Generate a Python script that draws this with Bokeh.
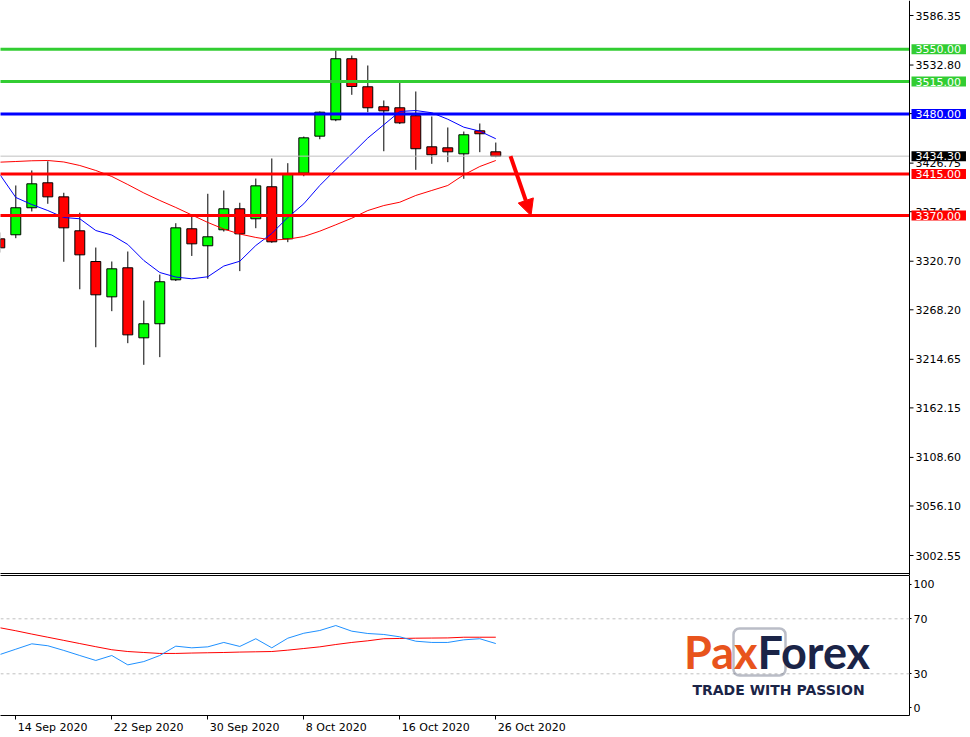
from bokeh.plotting import figure
from bokeh.models import (Range1d, FixedTicker, LinearAxis, Span, Label, Arrow,
                          NormalHead, BoxAnnotation, ColumnDataSource)
from bokeh.core.properties import value
from bokeh.layouts import column
from bokeh.embed import file_html
from bokeh.resources import INLINE

# ---------------- data ----------------
dates = ["2020-09-11", "2020-09-14", "2020-09-15", "2020-09-16", "2020-09-17", "2020-09-18",
         "2020-09-21", "2020-09-22", "2020-09-23", "2020-09-24", "2020-09-25", "2020-09-28",
         "2020-09-29", "2020-09-30", "2020-10-01", "2020-10-02", "2020-10-05", "2020-10-06",
         "2020-10-07", "2020-10-08", "2020-10-09", "2020-10-12", "2020-10-13", "2020-10-14",
         "2020-10-15", "2020-10-16", "2020-10-19", "2020-10-20", "2020-10-21", "2020-10-22",
         "2020-10-23", "2020-10-26"]
opens = [3344.9, 3349.3, 3378.5, 3405.5, 3390.3, 3353.6, 3320.4, 3282.2, 3313.6, 3237.9,
         3253.1, 3300.6, 3355.8, 3337.4, 3354.7, 3377.4, 3366.6, 3401.2, 3344.9, 3415.9,
         3455.9, 3473.6, 3539.6, 3509.3, 3487.7, 3486.6, 3478.0, 3444.4, 3443.3, 3436.8,
         3461.7, 3439.0]
highs = [3351.8, 3402.6, 3418.8, 3428.8, 3394.7, 3373.1, 3335.5, 3320.4, 3331.2, 3278.2,
         3306.3, 3361.8, 3370.1, 3393.6, 3397.2, 3383.9, 3410.1, 3431.8, 3426.7, 3455.5,
         3482.6, 3548.5, 3543.1, 3532.3, 3494.5, 3514.2, 3504.2, 3477.2, 3465.3, 3460.9,
         3469.6, 3449.0]
lows = [3330.1, 3345.6, 3374.5, 3382.8, 3320.1, 3290.4, 3227.7, 3266.7, 3232.1, 3208.7,
        3217.0, 3299.3, 3326.4, 3301.7, 3352.8, 3310.0, 3356.4, 3340.6, 3341.3, 3412.6,
        3452.6, 3472.1, 3500.6, 3481.8, 3439.6, 3469.0, 3419.5, 3426.0, 3427.8, 3409.8,
        3438.6, 3433.2]
closes = [3335.2, 3378.5, 3404.4, 3390.3, 3356.8, 3327.6, 3284.4, 3312.5, 3241.1, 3253.1,
          3298.5, 3356.8, 3339.5, 3347.1, 3377.4, 3350.3, 3402.2, 3341.7, 3414.5, 3454.1,
          3481.8, 3539.6, 3509.6, 3486.6, 3483.3, 3470.3, 3442.3, 3435.8, 3439.0, 3457.4,
          3458.5, 3434.3]
ma_fast = [3414.5, 3389.6, 3382.0, 3375.5, 3368.0, 3366.6, 3353.9, 3349.0, 3338.8, 3321.5,
           3308.5, 3303.6, 3301.7, 3303.9, 3315.5, 3320.7, 3337.7, 3350.7, 3368.0, 3382.8,
           3402.6, 3419.9, 3436.8, 3453.9, 3468.2, 3482.6, 3483.6, 3481.2, 3474.2, 3465.6,
           3461.3, 3453.1]
ma_slow = [3427.8, 3428.5, 3429.3, 3429.6, 3428.0, 3424.2, 3418.8, 3412.3, 3403.6, 3394.5,
           3386.4, 3378.8, 3370.7, 3362.6, 3355.5, 3350.1, 3346.4, 3343.6, 3344.5, 3347.4,
           3353.2, 3360.1, 3367.2, 3375.5, 3380.9, 3384.5, 3391.8, 3397.2, 3402.6, 3414.1,
           3423.1, 3429.6]
rsi = [44.0, 47.9, 51.8, 50.4, 47.0, 43.3, 39.7, 43.3, 36.5, 38.9, 43.3, 50.1, 48.9, 49.6,
       52.8, 49.9, 55.5, 48.9, 55.9, 59.5, 61.5, 65.1, 61.0, 59.3, 58.6, 56.9, 53.7, 52.8,
       52.8, 54.7, 55.5, 52.0]
rsi_signal = [63.5, 61.3, 58.9, 56.6, 54.3, 52.0, 49.7, 47.5, 46.2, 45.5, 44.8, 44.8, 45.1,
              45.3, 45.5, 45.8, 46.0, 46.2, 47.2, 48.4, 49.6, 51.3, 52.8, 54.0, 55.5, 55.7,
              55.9, 56.0, 56.1, 56.6, 56.6, 56.6]

levels = [3550.0, 3515.0, 3480.0, 3415.0, 3370.0]
level_colors = ["#32CD32", "#32CD32", "#0000FF", "#FF0000", "#FF0000"]

price_ticks = [3586.35, 3532.80, 3480.30, 3426.75, 3374.25, 3320.70, 3268.20, 3214.65,
               3162.15, 3108.60, 3056.10, 3002.55]
price_tick_labels = ["3586.35", "3532.80", "3480.30", "3426.75", "3374.25", "3320.70",
                     "3268.20", "3214.65", "3162.15", "3108.60", "3056.10", "3002.55"]
ind_levels = [100, 70, 30, 0]
ind_level_labels = ["100", "70", "30", "0"]
date_tick_dates = ["2020-09-14", "2020-09-22", "2020-09-30", "2020-10-08", "2020-10-16",
                   "2020-10-26"]
date_tick_labels = ["14 Sep 2020", "22 Sep 2020", "30 Sep 2020", "8 Oct 2020",
                    "16 Oct 2020", "26 Oct 2020"]

# ---------------- layout / style ----------------
FONT = "DejaVu Sans"
TOTAL_W = 970
AXIS_PX = 909        # x pixel of the right axis line
MAIN_H = 575
IND_H = 140
BAR_PX = 16.0
PRICE_PER_PX = 1.0811
IND_PX = 1.375

x_start = 0.7 / BAR_PX
axis_x = x_start + AXIS_PX / BAR_PX
px = 1 / BAR_PX      # one pixel in bar units

y_top = 3602.57
y_bot = y_top - MAIN_H * PRICE_PER_PX

ind_top = 70 + 43.3 / IND_PX
ind_bot = ind_top - IND_H / IND_PX

n = len(dates)
idx = list(range(n))
src = ColumnDataSource(dict(
    x=idx, high=highs, low=lows,
    top=[max(o, c) for o, c in zip(opens, closes)],
    bottom=[min(o, c) for o, c in zip(opens, closes)],
    color=["#00FF00" if c >= o else "#FF0000" for o, c in zip(opens, closes)],
    fast=ma_fast, slow=ma_slow, rsi=rsi, sig=rsi_signal))


def axis_style(ax):
    ax.axis_line_color = "black"
    ax.major_tick_line_color = "black"
    ax.major_tick_in = 0
    ax.major_tick_out = 4
    ax.minor_tick_line_color = None
    ax.major_label_text_font = FONT
    ax.major_label_text_font_size = "11px"
    ax.major_label_text_color = "black"
    ax.major_label_standoff = 2


# ---------------- main price panel (frame spans the price scale area too) ----------------
p = figure(frame_width=TOTAL_W, frame_height=MAIN_H,
           x_range=Range1d(x_start, x_start + TOTAL_W / BAR_PX), y_range=Range1d(y_bot, y_top),
           output_backend="svg", toolbar_location=None, min_border=0,
           outline_line_color=None, x_axis_location=None, y_axis_location=None,
           background_fill_color="white", border_fill_color="white")
p.grid.visible = False

# price scale: axis line, ticks and tick labels
p.add_layout(Span(location=axis_x, dimension="height", line_color="black", line_width=1))
p.segment(x0=[axis_x] * len(price_ticks), y0=price_ticks,
          x1=[axis_x + 4 * px] * len(price_ticks), y1=price_ticks,
          line_color="black", line_width=1)
p.text(x=[axis_x + 6 * px] * len(price_ticks), y=price_ticks, text=price_tick_labels,
       text_font=value(FONT), text_font_size="11px", text_color="black",
       text_baseline="middle", text_align="left")
# bottom border of the price panel
sep_y = y_top - 573 * PRICE_PER_PX
p.segment(x0=[x_start - 1], y0=[sep_y], x1=[axis_x], y1=[sep_y], line_color="black",
          line_width=1)

# candles
p.segment(x0="x", y0="low", x1="x", y1="high", line_color="black", line_width=1, source=src)
p.vbar(x="x", width=0.62, top="top", bottom="bottom", fill_color="color",
       line_color="black", line_width=1, source=src)
p.line("x", "fast", line_color="#0000FF", line_width=1, source=src)
p.line("x", "slow", line_color="#FF0000", line_width=1, source=src)

# price line and levels
p.segment(x0=[x_start - 1], y0=[closes[-1]], x1=[axis_x], y1=[closes[-1]],
          line_color="#C0C0C0", line_width=1)
p.segment(x0=[x_start - 1] * len(levels), y0=levels, x1=[axis_x] * len(levels), y1=levels,
          line_color=level_colors, line_width=3, line_cap="butt")

PAD = dict(left=4, right=5, top=1, bottom=1)
box_x = axis_x + 2 * px
p.add_layout(Label(x=box_x, y=closes[-1], text=f"{closes[-1]:.2f}", text_color="white",
                   text_font=FONT, text_font_size="11px", text_baseline="middle",
                   text_align="left", background_fill_color="black", padding=PAD))
for lv, col in zip(levels, level_colors):
    p.add_layout(Label(x=box_x, y=lv, text=f"{lv:.2f}", text_color="white",
                       text_font=FONT, text_font_size="11px", text_baseline="middle",
                       text_align="left", background_fill_color=col, padding=PAD))

p.add_layout(Arrow(end=NormalHead(size=16, fill_color="#FF0000", line_color="#FF0000"),
                   x_start=n - 1 + 0.92, y_start=closes[-1],
                   x_end=n - 1 + 2.2, y_end=levels[4],
                   line_color="#FF0000", line_width=4))

# ---------------- indicator panel ----------------
q = figure(frame_width=AXIS_PX, frame_height=IND_H,
           x_range=Range1d(x_start, axis_x), y_range=Range1d(ind_bot, ind_top),
           output_backend="svg", toolbar_location=None, min_border_left=0,
           min_border_right=TOTAL_W - AXIS_PX, min_border_top=0, min_border_bottom=22,
           outline_line_color=None, x_axis_location=None, y_axis_location=None,
           background_fill_color="white", border_fill_color="white")
q.grid.visible = False

ind_pos = [min(max(v, ind_bot + 5.5), ind_top - 6.5) for v in ind_levels]
iax = LinearAxis(ticker=FixedTicker(ticks=ind_pos),
                 major_label_overrides={t: s for t, s in zip(ind_pos, ind_level_labels)})
axis_style(iax)
iax.major_tick_out = 2
q.add_layout(iax, "right")

tax = LinearAxis(ticker=FixedTicker(ticks=[]), major_label_text_font_size="0px",
                 major_tick_line_color=None, minor_tick_line_color=None,
                 major_label_standoff=0, axis_line_color="black")
q.add_layout(tax, "above")

tick_idx = [dates.index(d) for d in date_tick_dates]
xax = LinearAxis(ticker=FixedTicker(ticks=tick_idx),
                 major_label_overrides={t: "" for t in tick_idx})
axis_style(xax)
xax.major_label_text_font_size = "0px"
xax.major_label_standoff = 0
q.add_layout(xax, "below")

# date labels start just right of their tick (MT4 style): second axis, labels only
CW = {"0": .636, "1": .636, "2": .636, "3": .636, "4": .636, "5": .636, "6": .636,
      "7": .636, "8": .636, "9": .636, " ": .318, "S": .635, "e": .615, "p": .635,
      "O": .787, "c": .55, "t": .392}
lab_pos = [t + (2 + 11 * sum(CW.get(ch, .6) for ch in s) / 2) * px
           for t, s in zip(tick_idx, date_tick_labels)]
lax = LinearAxis(ticker=FixedTicker(ticks=lab_pos),
                 major_label_overrides={t: s for t, s in zip(lab_pos, date_tick_labels)})
axis_style(lax)
lax.axis_line_color = None
lax.major_tick_line_color = None
lax.major_tick_out = 0
lax.major_label_standoff = 1
q.add_layout(lax, "below")

for lv in [70, 30]:
    q.add_layout(Span(location=lv, dimension="width", line_color="#C0C0C0",
                      line_width=1, line_dash="3 3"))

q.line("x", "sig", line_color="#FF0000", line_width=1, source=src)
q.line("x", "rsi", line_color="#1E90FF", line_width=1, source=src)


# logo (placed by picture pixels)
def lx(xp):
    return x_start + xp / BAR_PX


def ly(yp):
    return ind_top - (yp - MAIN_H) / IND_PX


NAVY = "#1B2447"
ORANGE = "#E8541C"
q.add_layout(BoxAnnotation(left=lx(733), right=lx(785), top=ly(628), bottom=ly(675),
                           fill_alpha=0, line_color=NAVY, line_width=2.5, border_radius=6))
q.add_layout(Label(x=lx(757), y=ly(651), text="Pax", text_font="Lato", text_font_style="bold",
                   text_font_size="45px", text_color=ORANGE, text_align="right",
                   text_baseline="middle"))
q.add_layout(Label(x=lx(757), y=ly(651), text="Forex", text_font="Lato",
                   text_font_style="bold", text_font_size="45px", text_color=NAVY,
                   text_align="left", text_baseline="middle"))
q.add_layout(Label(x=lx(778), y=ly(689), text="TRADE WITH PASSION", text_font=FONT,
                   text_font_style="bold", text_font_size="14px", text_color=NAVY,
                   text_align="center", text_baseline="middle"))

layout = column(p, q, spacing=0)
open("out.html", "w").write(file_html(layout, INLINE))
